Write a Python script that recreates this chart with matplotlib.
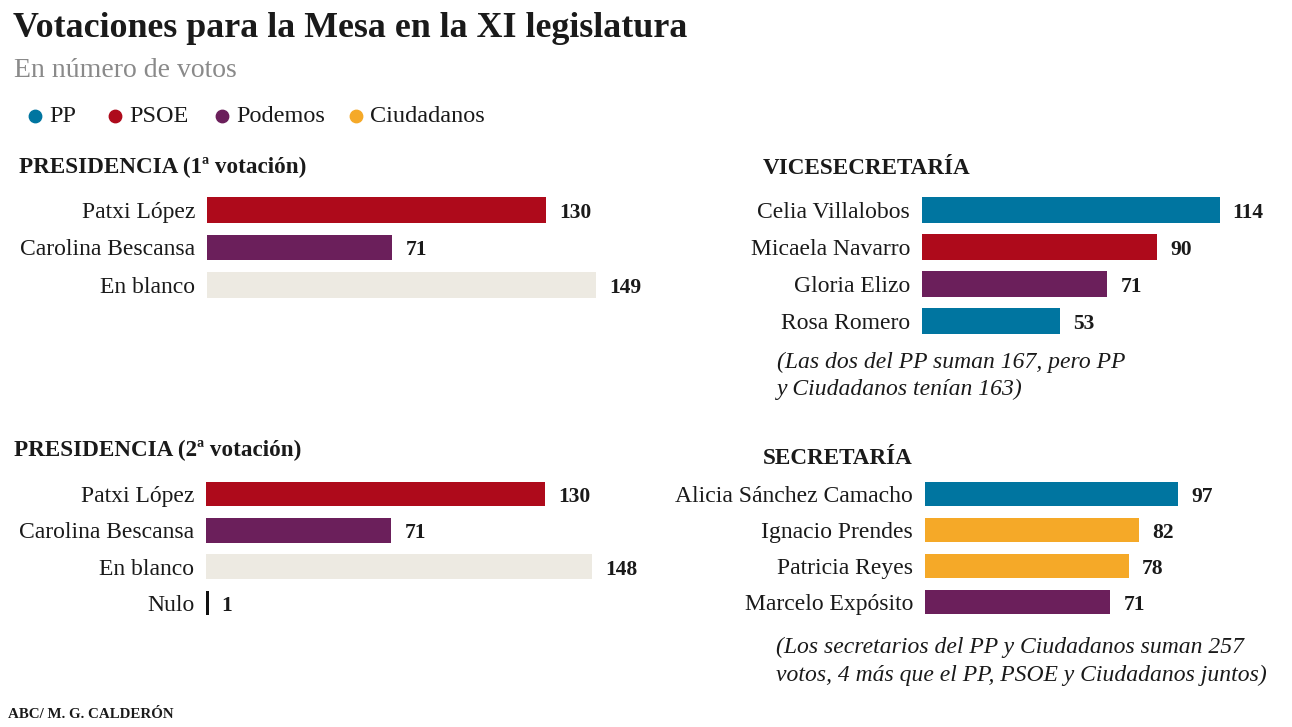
import matplotlib.pyplot as plt

W, H = 1292, 727
SERIF = ['Liberation Serif', 'DejaVu Serif']
plt.rcParams['font.family'] = SERIF

PP, PSOE, POD, CS = '#0075a0', '#ae0a1b', '#6b1f5b', '#f5a928'
BLANK, NULO = '#edeae2', '#111111'
TXT = '#1a1a1a'

# datos
pres1_names = ['Patxi López', 'Carolina Bescansa', 'En blanco']
pres1_votes = [130, 71, 149]
pres1_cols = [PSOE, POD, BLANK]

pres2_names = ['Patxi López', 'Carolina Bescansa', 'En blanco', 'Nulo']
pres2_votes = [130, 71, 148, 1]
pres2_cols = [PSOE, POD, BLANK, NULO]

vice_names = ['Celia Villalobos', 'Micaela Navarro', 'Gloria Elizo', 'Rosa Romero']
vice_votes = [114, 90, 71, 53]
vice_cols = [PP, PSOE, POD, PP]

secr_names = ['Alicia Sánchez Camacho', 'Ignacio Prendes', 'Patricia Reyes', 'Marcelo Expósito']
secr_votes = [97, 82, 78, 71]
secr_cols = [PP, CS, CS, POD]

legend_names = ['PP', 'PSOE', 'Podemos', 'Ciudadanos']
legend_cols = [PP, PSOE, POD, CS]

PXV = 2.61  # pixeles por voto

fig = plt.figure(figsize=(W / 100, H / 100), dpi=100)
fig.patch.set_facecolor('white')

# capa de textos en pixeles
bg = fig.add_axes([0, 0, 1, 1])
bg.set_xlim(0, W)
bg.set_ylim(H, 0)
bg.axis('off')


def panel(left, top, step, names, votes, cols, gap=13):
    n = len(names)
    width = 480
    ax = fig.add_axes([left / W, 1 - (top + n * step) / H, width / W, n * step / H])
    ys = list(range(n))
    ax.barh(ys, votes, height=0.68, color=cols)
    ax.set_xlim(0, width / PXV)
    ax.set_ylim(n - 0.5, -0.5)
    ax.set_yticks(ys)
    ax.set_yticklabels(names, fontsize=17, color=TXT)
    ax.tick_params(axis='y', length=0, pad=8.5)
    ax.set_xticks([])
    for s in ax.spines.values():
        s.set_visible(False)
    ax.patch.set_alpha(0)
    for y, v in zip(ys, votes):
        ax.annotate(str(v), xy=(v, y), xytext=(gap * 0.72, -2), textcoords='offset points',
                    ha='left', va='center', fontsize=15.5, fontweight='bold', color=TXT)
    return ax


bg.text(13, 37, 'Votaciones para la Mesa en la XI legislatura', fontsize=25.8,
        fontweight='bold', color=TXT, va='baseline')
bg.text(14, 77, 'En número de votos', fontsize=20, color='#8a8a8a', va='baseline')

lx = [35, 115, 222, 356]
for x, name, c in zip(lx, legend_names, legend_cols):
    bg.scatter([x], [116], s=80, color=c, zorder=3)
    bg.text(x + 14, 117, name, fontsize=17.5, color=TXT, va='center')

heads = [(19, 167, 'PRESIDENCIA (1ª votación)'), (14, 450, 'PRESIDENCIA (2ª votación)'),
         (763, 169, 'VICESECRETARÍA'), (763, 459, 'SECRETARÍA')]
for x, y, t in heads:
    bg.text(x, y, t, fontsize=16.7, fontweight='bold', color=TXT, va='center')

panel(207, 191, 37.5, pres1_names, pres1_votes, pres1_cols)
panel(206, 476, 36.3, pres2_names, pres2_votes, pres2_cols)
panel(922, 191.5, 37, vice_names, vice_votes, vice_cols)
panel(925, 476, 36, secr_names, secr_votes, secr_cols)

bg.text(777, 362, '(Las dos del PP suman 167, pero PP', fontsize=17, style='italic',
        color=TXT, va='center')
bg.text(777, 389, 'y Ciudadanos tenían 163)', fontsize=17, style='italic', color=TXT, va='center')
bg.text(776, 647, '(Los secretarios del PP y Ciudadanos suman 257', fontsize=17,
        style='italic', color=TXT, va='center')
bg.text(776, 675, 'votos, 4 más que el PP, PSOE y Ciudadanos juntos)', fontsize=17,
        style='italic', color=TXT, va='center')

bg.text(8, 714, 'ABC/ M. G. CALDERÓN', fontsize=10.8, fontweight='bold', color=TXT, va='center')

fig.savefig('out.png', dpi=100, facecolor='white')
